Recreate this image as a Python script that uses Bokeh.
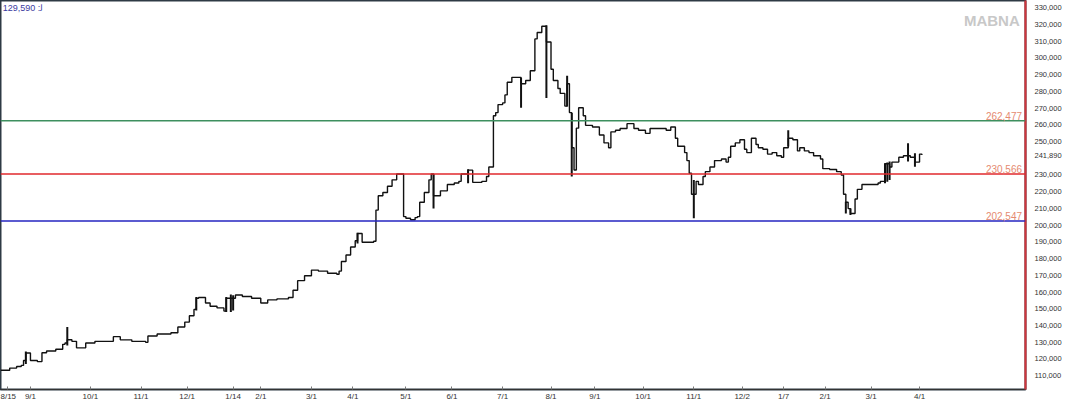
from bokeh.plotting import figure
from bokeh.models import Span, Label, BoxAnnotation, FixedTicker, NumeralTickFormatter
from bokeh.embed import file_html
from bokeh.resources import INLINE

# ---- data (trading-day index, price) ----
day = [0, 4, 7, 9, 10, 11, 13, 16, 18, 20, 24, 27, 28, 29, 31, 33, 37, 41, 46, 49, 51, 52, 57, 63, 64,
       68, 74, 77, 80, 82, 84, 85, 86, 89, 91, 94, 97, 98, 102, 105, 109, 113, 116, 120, 125, 127, 129,
       132, 135, 138, 142, 146, 147, 148, 150, 152, 154, 155, 157, 162, 163, 164, 166, 168, 170, 172,
       174, 175, 176, 178, 180, 181, 182, 184, 186, 187, 188, 190, 191, 194, 197, 199, 200, 203, 205,
       209, 211, 212, 214, 215, 216, 218, 219, 220, 222, 224, 226, 228, 230, 232, 233, 235, 237, 239,
       240, 242, 243, 245, 246, 247, 248, 249, 250, 251, 253, 254, 257, 260, 262, 264, 265, 267, 269,
       272, 275, 277, 280, 282, 285, 289, 291, 293, 294, 297, 298, 299, 300, 302, 303, 305, 306, 308,
       310, 313, 315, 316, 317, 319, 321, 323, 324, 326, 328, 329, 331, 333, 335, 337, 339, 340, 342,
       344, 346, 347, 349, 351, 353, 356, 357, 360, 363, 365, 366, 367, 368, 369, 370, 371, 372, 374,
       379, 381, 382, 384, 386, 387, 390, 392, 395, 397, 399, 400]
close = [113200, 114500, 115500, 116100, 119000, 123500, 119000, 118400, 123700, 124700, 125800, 128700,
         129500, 131500, 130500, 126600, 129500, 130500, 130500, 133300, 133300, 131400, 130500, 129900,
         133700, 134900, 135600, 139100, 142000, 145800, 149600, 156300, 156700, 153400, 151500, 150500,
         148600, 156300, 158200, 157300, 156300, 153400, 155300, 155900, 156700, 161100, 166800, 169700,
         173100, 172500, 171200, 170600, 172500, 178300, 182100, 186900, 190700, 195000, 189800, 190400,
         209000, 217600, 219500, 223300, 227100, 230600, 230600, 205100, 204100, 203200, 204500, 205100,
         213700, 219500, 227100, 230600, 217600, 217600, 220500, 224300, 225200, 226200, 230600, 232900,
         225600, 226200, 229100, 234800, 265400, 267300, 272100, 273100, 277900, 285500, 288400, 288400,
         284600, 286500, 292300, 311400, 315200, 319000, 309500, 293200, 286500, 281700, 278800, 271200,
         284600, 267300, 246300, 233000, 258000, 270200, 265400, 259700, 258700, 253900, 249200, 246300,
         255800, 256800, 257800, 260700, 257800, 256800, 254900, 257800, 257800, 256800, 258700, 252000,
         247200, 243400, 238600, 231000, 218500, 226200, 224300, 229100, 232000, 234800, 238600, 239600,
         237700, 240600, 247200, 249200, 251100, 245400, 243400, 252000, 248200, 246300, 245400, 242500,
         243400, 241500, 240600, 246300, 252000, 251100, 244400, 246300, 244400, 243400, 241500, 239600,
         233800, 233300, 232000, 230000, 218500, 213700, 209900, 207000, 207000, 215600, 221400, 224300,
         224300, 225200, 226200, 236700, 234800, 237700, 240600, 241500, 240600, 237700, 242500, 241890]

# high-low ranges of the volatile bars
wick_day = [11, 29, 85, 98, 100, 101, 155, 188, 203, 226, 237, 246, 248, 301, 342, 367, 369, 384, 385, 386, 394, 397]
wick_low = [117000, 128000, 149000, 148000, 148000, 149000, 189000, 209900, 225000, 270200, 276000, 271000,
            229100, 204100, 247000, 207000, 206000, 225000, 226000, 227000, 238000, 235000]
wick_high = [124500, 139100, 157000, 157000, 158500, 158000, 195500, 230600, 233500, 288000, 319500, 289300,
             267000, 227000, 256800, 214000, 210000, 237000, 237500, 238000, 249000, 243000]

tick_day = [3, 13, 39, 61, 81, 101, 113, 135, 153, 176, 196, 218, 239, 258, 279, 301, 322, 340, 358, 378, 399]
tick_label = ["8/15", "9/1", "10/1", "11/1", "12/1", "1/14", "2/1", "3/1", "4/1", "5/1", "6/1", "7/1",
              "8/1", "9/1", "10/1", "11/1", "12/2", "1/7", "2/1", "3/1", "4/1"]

levels = [262477, 230566, 202547]
level_text = ["262,477", "230,566", "202,547"]
level_color = ["#3d8f5f", "#e0282c", "#2424c0"]

last_price = 241890
last_text = "241,890"
header_text = "129,590 :ﻟ"
brand = "MABNA"

# price-axis ticks: 240,000 is replaced by the last-price tag
price_ticks = sorted([v for v in range(110000, 330001, 10000) if v != 240000] + [last_price])

FONT = "Liberation Sans"
X_MAX = 445

p = figure(width=1064, height=403, x_range=(0, X_MAX), y_range=(101700, 334360),
           output_backend="svg", toolbar_location=None, y_axis_location="right",
           min_border_left=0, min_border_top=0, min_border_right=34, min_border_bottom=13)
p.grid.visible = False
p.outline_line_color = "#2e3a44"
p.outline_line_width = 2
p.background_fill_color = "white"
p.border_fill_color = "white"

# price bars
p.segment(x0=wick_day, y0=wick_low, x1=wick_day, y1=wick_high, line_color="#111111", line_width=2)
p.step(day, close, mode="after", line_color="#111111", line_width=1.4)

# level lines
for lv, txt, col in zip(levels, level_text, level_color):
    p.add_layout(Span(location=lv, dimension="width", line_color=col, line_width=1.5))
    p.add_layout(Label(x=443.5, y=lv, text=txt, text_align="right", text_baseline="bottom",
                       y_offset=1, text_color="#e58a70", text_font=FONT, text_font_size="10px"))

# x axis
xa = p.xaxis[0]
xa.ticker = FixedTicker(ticks=tick_day)
xa.major_label_overrides = {d: l for d, l in zip(tick_day, tick_label)}
xa.axis_line_color = "#333333"
xa.major_tick_in = 3
xa.major_tick_out = 0
xa.major_tick_line_color = "#777777"
xa.minor_tick_line_color = None
xa.major_label_text_font = FONT
xa.major_label_text_font_size = "8px"
xa.major_label_text_color = "#333333"
xa.major_label_standoff = 2

# y axis (price), with the last price shown among the tick labels
ya = p.yaxis[0]
ya.ticker = FixedTicker(ticks=price_ticks)
ya.formatter = NumeralTickFormatter(format="0,0")
ya.major_label_overrides = {last_price: last_text}
ya.axis_line_color = "#d0343c"
ya.axis_line_width = 2
ya.major_tick_line_color = None
ya.minor_tick_line_color = None
ya.major_label_text_font = FONT
ya.major_label_text_font_size = "7.5px"
ya.major_label_text_color = "#333333"
ya.major_label_standoff = 3

# red box around price axis
p.add_layout(BoxAnnotation(left=X_MAX, right=459.2, bottom=95800, top=335000,
                           fill_color=None, line_color="#d0343c", line_width=2))

# header / brand
p.add_layout(Label(x=1, y=332800, text=header_text, text_baseline="top", text_color="#3a3aa0",
                   text_font=FONT, text_font_size="9px"))
p.add_layout(Label(x=442.5, y=327300, text=brand, text_align="right", text_baseline="top",
                   text_color="#c8c8c8", text_font=FONT, text_font_size="15px", text_font_style="bold"))

open("out.html", "w").write(file_html(p, INLINE))
